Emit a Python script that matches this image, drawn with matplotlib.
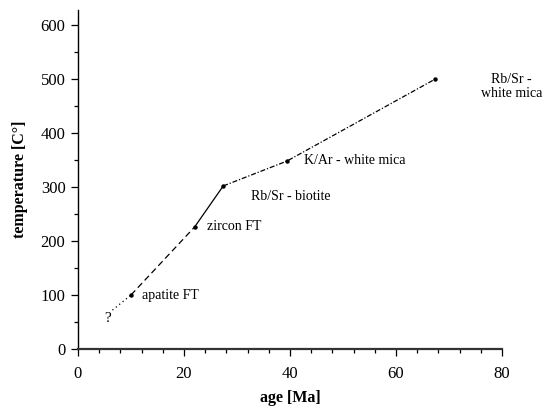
import matplotlib
matplotlib.use("Agg")
import matplotlib.pyplot as plt
import numpy as np

plt.rcParams['font.family'] = ['Liberation Serif', 'DejaVu Serif']

# cooling path (age in Ma, temperature in C)
seg_dotted_age = [6.5, 10.0]
seg_dotted_temp = [72, 100]
seg_dashed_age = [10.0, 22.0]
seg_dashed_temp = [100, 226]
seg_solid_age = [22.0, 27.4]
seg_solid_temp = [226, 302]
seg_dashdot_age = [27.4, 39.4, 67.4]
seg_dashdot_temp = [302, 348, 500]

point_age = [10.0, 22.0, 27.4, 39.4, 67.4]
point_temp = [100, 226, 302, 348, 500]

labels = ["apatite FT", "zircon FT", "Rb/Sr - biotite", "K/Ar - white mica", "Rb/Sr -\nwhite mica"]
label_age = [12.1, 24.4, 32.7, 42.7, 81.8]
label_temp = [100, 226, 282, 350, 500]
label_ha = ["left", "left", "left", "left", "center"]

fig = plt.figure(figsize=(5.43, 4.08), dpi=100)
ax = fig.add_axes([0.1436, 0.1446, 0.781, 0.831])

ax.plot(seg_dotted_age, seg_dotted_temp, color='black', lw=0.9, linestyle=(0, (1, 2.5)))
ax.plot(seg_dashed_age, seg_dashed_temp, color='black', lw=0.9, linestyle=(0, (5, 3)))
ax.plot(seg_solid_age, seg_solid_temp, color='black', lw=0.9)
ax.plot(seg_dashdot_age, seg_dashdot_temp, color='black', lw=0.9, linestyle=(0, (4, 1.5, 1, 1.5)))
ax.plot(point_age, point_temp, 'o', color='black', ms=2.2)

for t, xa, ya, ha in zip(labels, label_age, label_temp, label_ha):
    va = 'top' if '\n' in t else 'center'
    ax.text(xa, ya + (11 if '\n' in t else 0), t, fontsize=10, ha=ha, va=va, linespacing=1.1)

ax.text(5.5, 57, "?", fontsize=11, ha='center', va='center')

ax.set_xlim(0, 80)
ax.set_ylim(0, 628)
ax.set_xticks([0, 20, 40, 60, 80])
ax.set_xticks(np.arange(0, 81, 4), minor=True)
ax.set_yticks([0, 100, 200, 300, 400, 500, 600])
ax.set_yticks(np.arange(0, 601, 50), minor=True)
ax.tick_params(axis='both', which='major', direction='out', length=5, width=0.9, labelsize=12)
ax.tick_params(axis='both', which='minor', direction='out', length=3, width=0.9)
ax.tick_params(axis='x', pad=7)
ax.tick_params(axis='y', pad=4)

ax.spines['top'].set_visible(False)
ax.spines['right'].set_visible(False)
ax.spines['bottom'].set_color('#333333')
ax.spines['bottom'].set_linewidth(1.6)
ax.spines['left'].set_linewidth(1.0)

ax.set_xlabel("age [Ma]", fontsize=11.5, fontweight='bold', labelpad=6)
ax.set_ylabel("temperature [C°]", fontsize=11.5, fontweight='bold', labelpad=9)

fig.savefig("out.png", dpi=100)
